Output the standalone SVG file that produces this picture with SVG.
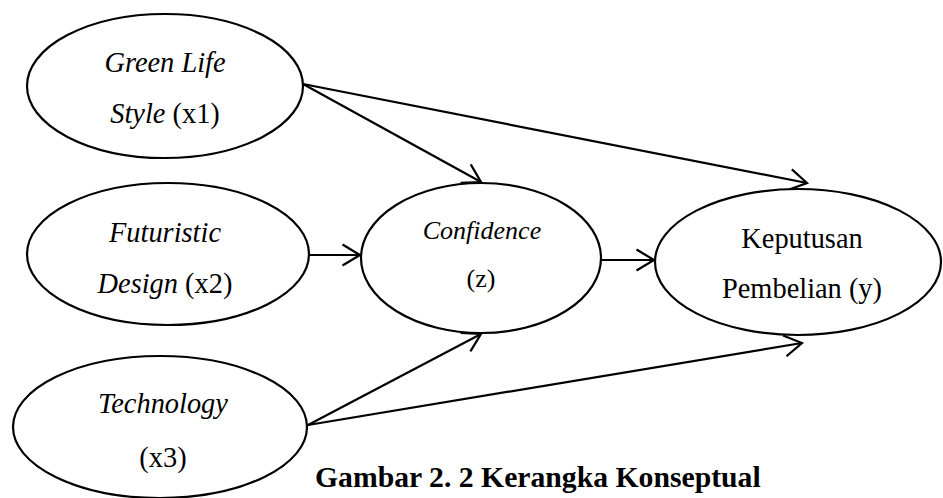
<svg xmlns="http://www.w3.org/2000/svg" width="943" height="498" viewBox="0 0 943 498">
<style>
.node ellipse{fill:#fff;stroke:#000;stroke-width:2.2}
text{font-family:"Liberation Serif","Times New Roman",serif;font-size:28.4px;fill:#000;text-anchor:middle}
.it{font-style:italic}
.conn line{stroke:#000;stroke-width:2.2;fill:none}
.cap{font-weight:bold;font-size:29.7px;text-anchor:start}
.sm{font-size:26px}
</style>
<defs>
<marker id="arr" markerUnits="userSpaceOnUse" markerWidth="30" markerHeight="30" viewBox="-25 -15 30 30" refX="0" refY="0" orient="auto">
<path d="M-17.5,-10.5 L0,0 L-17.5,10.5" fill="none" stroke="#000" stroke-width="2.2"/>
</marker>
</defs>
<g class="conn">
<line x1="303" y1="84" x2="481" y2="182" marker-end="url(#arr)"/>
<line x1="303" y1="84" x2="807" y2="183" marker-end="url(#arr)"/>
<line x1="308" y1="255" x2="360" y2="255" marker-end="url(#arr)"/>
<line x1="601" y1="260" x2="654" y2="260" marker-end="url(#arr)"/>
<line x1="308" y1="425" x2="481" y2="334" marker-end="url(#arr)"/>
<line x1="308" y1="425" x2="802" y2="343" marker-end="url(#arr)"/>
</g>
<g id="x1" class="node">
<ellipse cx="165" cy="86" rx="138" ry="72"/>
<text x="165" y="72" class="it">Green Life</text>
<text x="165" y="123"><tspan class="it">Style</tspan> (x1)</text>
</g>
<g id="x2" class="node">
<ellipse cx="168" cy="254" rx="141" ry="71"/>
<text x="165" y="242" class="it">Futuristic</text>
<text x="165" y="293"><tspan class="it">Design</tspan> (x2)</text>
</g>
<g id="x3" class="node">
<ellipse cx="160" cy="427" rx="147" ry="71"/>
<text x="163" y="413" class="it">Technology</text>
<text x="163" y="467">(x3)</text>
</g>
<g id="z" class="node">
<ellipse cx="481" cy="258" rx="120" ry="75"/>
<text x="482" y="239" class="it sm">Confidence</text>
<text x="481" y="287" class="sm">(z)</text>
</g>
<g id="y" class="node">
<ellipse cx="798" cy="262" rx="143" ry="73"/>
<text x="802" y="248">Keputusan</text>
<text x="802" y="298">Pembelian (y)</text>
</g>
<text x="315" y="487" class="cap">Gambar 2. 2 Kerangka Konseptual</text>
</svg>
